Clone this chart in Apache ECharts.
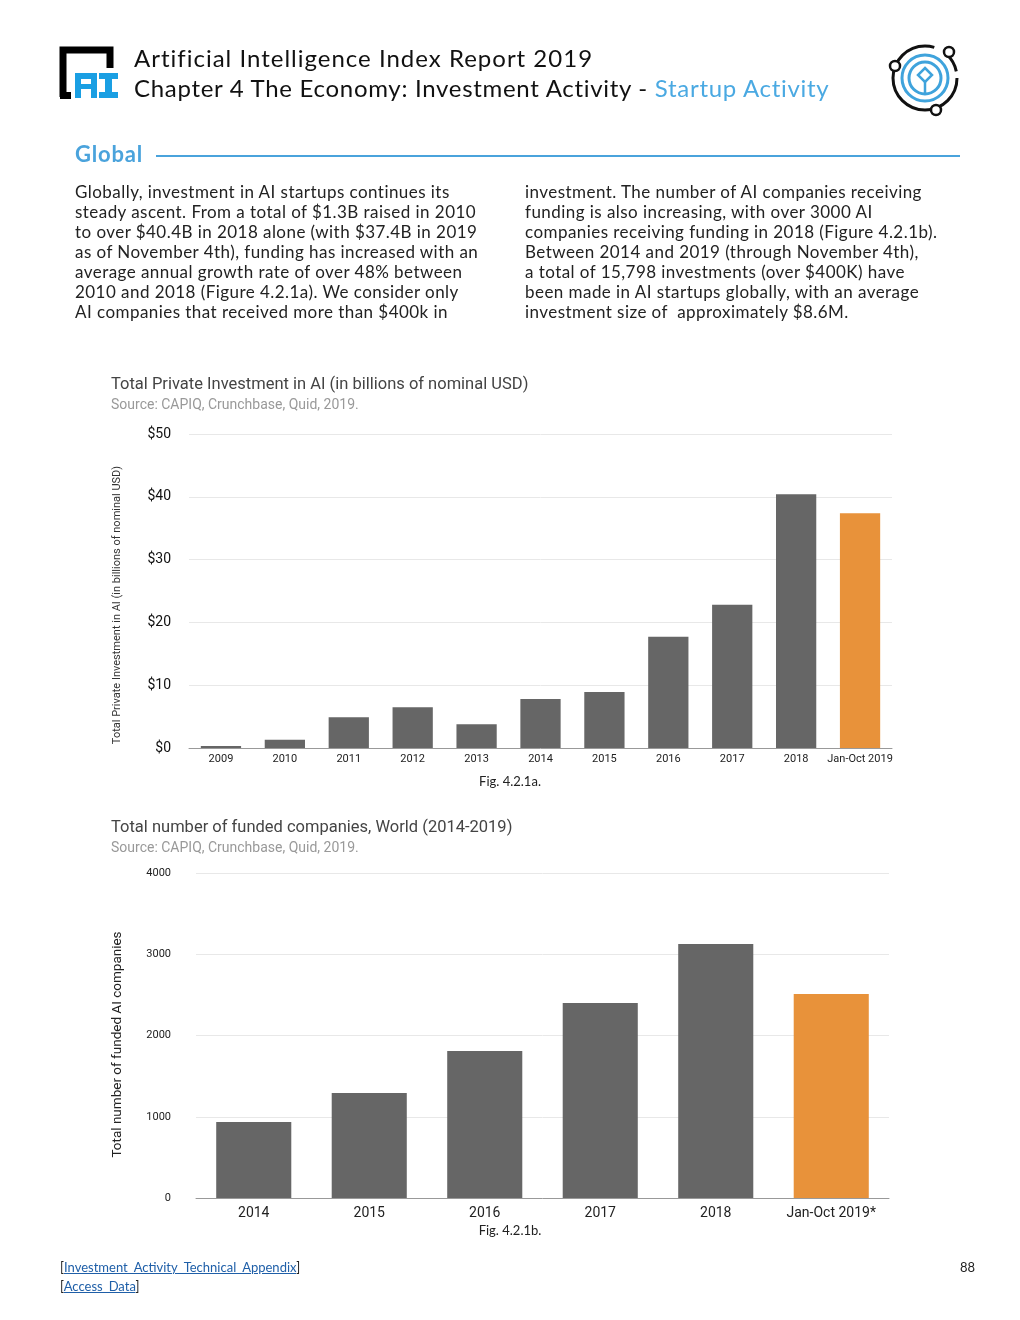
<!DOCTYPE html>
<html>
<head>
<meta charset="utf-8">
<script src="https://cdn.jsdelivr.net/npm/echarts@6/dist/echarts.min.js"></script>
<style>
  html, body { margin: 0; padding: 0; background: #fff; }
  #page { position: relative; width: 1020px; height: 1320px; overflow: hidden; font-family: Lato, "Open Sans", sans-serif; color: #222; }
  #chart { position: absolute; left: 0; top: 0; width: 1020px; height: 1320px; }
  .abs { position: absolute; white-space: nowrap; }
  .hdr { font-size: 24px; letter-spacing: 0.9px; color: #111; }
  .para div { font-size: 17px; line-height: 20px; height: 20px; letter-spacing: 0.45px; color: #222; }
  a { color: #1f5fa8; }
</style>
</head>
<body>
<div id="page">
  <div id="chart"></div>
  <svg class="abs" style="left:0;top:0" width="200" height="120">
    <path d="M 63 97 L 63 50 L 110 50 L 110 68" fill="none" stroke="#000" stroke-width="7"/>
    <rect x="60" y="92" width="11" height="7" fill="#000"/>
    <rect x="76" y="73" width="20" height="6" fill="#1a9fe3"/>
    <rect x="75" y="73" width="6" height="25" fill="#1a9fe3"/>
    <rect x="91" y="73" width="6" height="25" fill="#1a9fe3"/>
    <rect x="75" y="84" width="22" height="5" fill="#1a9fe3"/>
    <rect x="99" y="73" width="19" height="6" fill="#1a9fe3"/>
    <rect x="105" y="73" width="7" height="25" fill="#1a9fe3"/>
    <rect x="99" y="92" width="19" height="6" fill="#1a9fe3"/>
  </svg>
  <div class="abs hdr" style="left:134px;top:43px;letter-spacing:1px;">Artificial Intelligence Index Report 2019</div>
  <div class="abs hdr" style="left:134px;top:73px;letter-spacing:0.7px;">Chapter 4 The Economy: Investment Activity - <span style="color:#4aa9e2">Startup Activity</span></div>
  <svg class="abs" style="left:870px;top:25px" width="110" height="110">
    <circle cx="55" cy="53" r="32" fill="none" stroke="#111" stroke-width="3" stroke-dasharray="160 14 20 8"/>
    <circle cx="79" cy="27" r="5" fill="#fff" stroke="#111" stroke-width="2.5"/>
    <circle cx="25" cy="41" r="5" fill="#fff" stroke="#111" stroke-width="2.5"/>
    <circle cx="66" cy="85" r="5" fill="#fff" stroke="#111" stroke-width="2.5"/>
    <circle cx="55" cy="53" r="23" fill="none" stroke="#3fa3dc" stroke-width="3"/>
    <circle cx="55" cy="53" r="16" fill="none" stroke="#3fa3dc" stroke-width="3"/>
    <path d="M 55 43 L 62 50 L 55 57 L 48 50 Z" fill="none" stroke="#3fa3dc" stroke-width="2.5"/>
    <path d="M 55 57 L 55 69" stroke="#3fa3dc" stroke-width="2.5"/>
  </svg>
  <div class="abs" style="left:75px;top:140px;font-size:22px;font-weight:bold;color:#4aa3dc;letter-spacing:0.8px;">Global</div>
  <div class="abs" style="left:156px;top:155px;width:804px;height:2px;background:#4aa3dc;"></div>
  <div class="abs para" style="left:75px;top:182px;">
    <div>Globally, investment in AI startups continues its</div>
    <div>steady ascent. From a total of $1.3B raised in 2010</div>
    <div>to over $40.4B in 2018 alone (with $37.4B in 2019</div>
    <div>as of November 4th), funding has increased with an</div>
    <div>average annual growth rate of over 48% between</div>
    <div>2010 and 2018 (Figure 4.2.1a). We consider only</div>
    <div>AI companies that received more than $400k in</div>
  </div>
  <div class="abs para" style="left:525px;top:182px;">
    <div>investment. The number of AI companies receiving</div>
    <div>funding is also increasing, with over 3000 AI</div>
    <div>companies receiving funding in 2018 (Figure 4.2.1b).</div>
    <div>Between 2014 and 2019 (through November 4th),</div>
    <div>a total of 15,798 investments (over $400K) have</div>
    <div>been made in AI startups globally, with an average</div>
    <div>investment size of&nbsp; approximately $8.6M.</div>
  </div>
  <div class="abs" style="left:60px;top:1259px;font-size:13px;">[<a href="#">Investment_Activity_Technical_Appendix</a>]</div>
  <div class="abs" style="left:60px;top:1278px;font-size:13px;">[<a href="#">Access_Data</a>]</div>
  <div class="abs" style="left:960px;top:1259px;font-size:13px;">88</div>
</div>
<script>
// ---- Data ----
const investCategories = ['2009','2010','2011','2012','2013','2014','2015','2016','2017','2018','Jan-Oct 2019'];
const investValues = [0.3, 1.3, 4.9, 6.5, 3.8, 7.8, 8.9, 17.7, 22.8, 40.4, 37.4];
const investTicks = [0, 10, 20, 30, 40, 50];

const companyCategories = ['2014','2015','2016','2017','2018','Jan-Oct 2019*'];
const companyValues = [935, 1292, 1809, 2400, 3126, 2511];
const companyTicks = [0, 1000, 2000, 3000, 4000];

const GRAY = '#666666';
const ORANGE = '#e8923a';

function colored(vals) {
  return vals.map((v, i) => ({ value: v, itemStyle: { color: i === vals.length - 1 ? ORANGE : GRAY } }));
}

const FONT = 'Roboto, "Liberation Sans", Arial, sans-serif';
const chart = echarts.init(document.getElementById('chart'), null, { renderer: 'canvas' });
chart.setOption({
  animation: false,
  textStyle: { fontFamily: FONT },
  title: [
    {
      text: 'Total Private Investment in AI (in billions of nominal USD)',
      subtext: 'Source: CAPIQ, Crunchbase, Quid, 2019.',
      left: 106, top: 371, itemGap: 5,
      textStyle: { fontSize: 16.5, fontWeight: 'normal', color: '#444', fontFamily: FONT },
      subtextStyle: { fontSize: 14, color: '#999', fontFamily: FONT }
    },
    {
      text: 'Total number of funded companies, World (2014-2019)',
      subtext: 'Source: CAPIQ, Crunchbase, Quid, 2019.',
      left: 106, top: 814, itemGap: 5,
      textStyle: { fontSize: 16.5, fontWeight: 'normal', color: '#444', fontFamily: FONT },
      subtextStyle: { fontSize: 14, color: '#999', fontFamily: FONT }
    }
  ],
  grid: [
    { left: 189, right: 128, top: 434, bottom: 572, containLabel: false },
    { left: 196, right: 131, top: 873, bottom: 122, containLabel: false }
  ],
  xAxis: [
    {
      type: 'category', gridIndex: 0, data: investCategories,
      axisTick: { show: false },
      axisLine: { lineStyle: { color: '#999' } },
      axisLabel: { fontSize: 11, color: '#222', margin: 6, interval: 0, fontFamily: FONT }
    },
    {
      type: 'category', gridIndex: 1, data: companyCategories,
      axisTick: { show: false },
      axisLine: { lineStyle: { color: '#999' } },
      axisLabel: { fontSize: 14, color: '#222', margin: 8, interval: 0, fontFamily: FONT }
    }
  ],
  yAxis: [
    {
      type: 'value', gridIndex: 0,
      min: investTicks[0], max: investTicks[investTicks.length - 1], interval: 10,
      name: 'Total Private Investment in AI (in billions of nominal USD)',
      nameLocation: 'middle', nameGap: 66,
      nameTextStyle: { fontSize: 11, color: '#333', fontFamily: FONT, padding: [0, 28, 0, 0] },
      axisLine: { show: false }, axisTick: { show: false },
      splitLine: { lineStyle: { color: '#e8e8e8' } },
      axisLabel: { fontSize: 14, color: '#111', margin: 18, formatter: v => '$' + v, fontFamily: FONT }
    },
    {
      type: 'value', gridIndex: 1,
      min: companyTicks[0], max: companyTicks[companyTicks.length - 1], interval: 1000,
      name: 'Total number of funded AI companies',
      nameLocation: 'middle', nameGap: 71,
      nameTextStyle: { fontSize: 13.5, color: '#222', fontFamily: FONT, padding: [0, 18, 0, 0] },
      axisLine: { show: false }, axisTick: { show: false },
      splitLine: { lineStyle: { color: '#e8e8e8' } },
      axisLabel: { fontSize: 11, color: '#222', margin: 25, formatter: v => String(v), fontFamily: FONT }
    }
  ],
  series: [
    { type: 'bar', xAxisIndex: 0, yAxisIndex: 0, data: colored(investValues), barWidth: '63%' },
    { type: 'bar', xAxisIndex: 1, yAxisIndex: 1, data: colored(companyValues), barWidth: '65%' }
  ],
  graphic: [
    { type: 'text', left: 'center', top: 775, style: { text: 'Fig. 4.2.1a.', font: '13px Lato', fill: '#222' } },
    { type: 'text', left: 'center', top: 1224, style: { text: 'Fig. 4.2.1b.', font: '13px Lato', fill: '#222' } }
  ]
});
</script>
</body>
</html>
